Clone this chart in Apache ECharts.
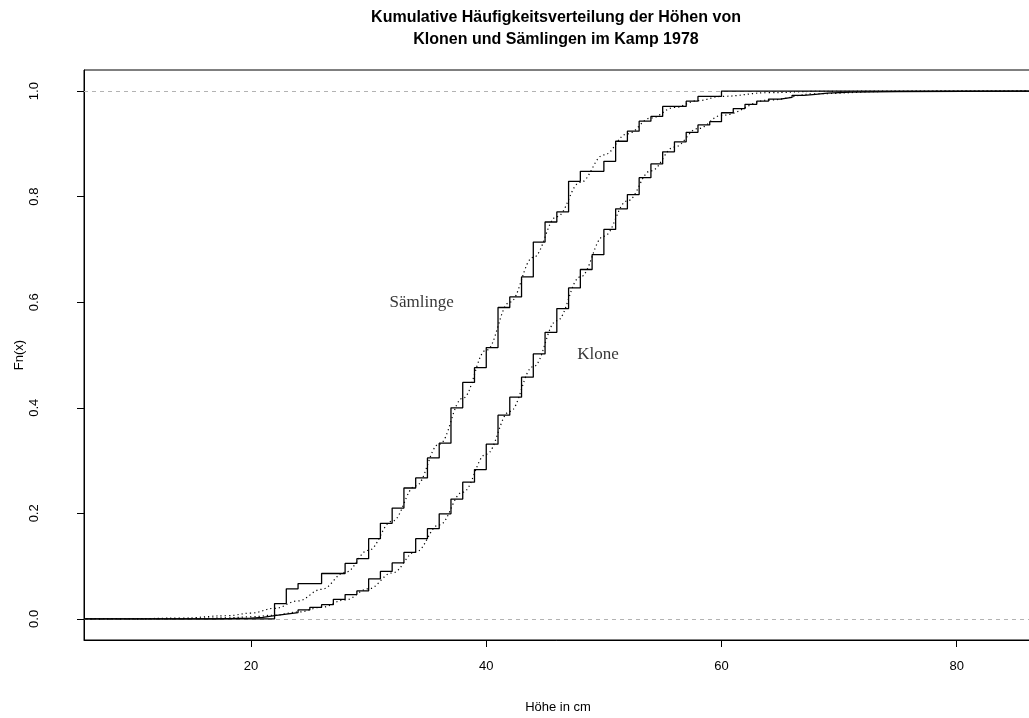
<!DOCTYPE html>
<html>
<head>
<meta charset="utf-8">
<script src="https://cdn.jsdelivr.net/npm/echarts@6/dist/echarts.min.js"></script>
<style>
  html, body { margin: 0; padding: 0; background: #fff; }
  #chart { width: 1029px; height: 718px; }
</style>
</head>
<body>
<div id="chart"></div>
<script>
// Empirical distribution functions (height in cm -> cumulative share)
const saemlingeX = [22, 23, 24, 26, 28, 29, 30, 31, 32, 33, 34, 35, 36, 37, 38, 39, 40, 41, 42, 43,
                    44, 45, 46, 47, 48, 50, 51, 52, 53, 54, 55, 57, 58, 60];
const saemlingeF = [0.029, 0.057, 0.067, 0.086, 0.105, 0.114, 0.152, 0.181, 0.210, 0.248, 0.267, 0.305,
                    0.333, 0.400, 0.448, 0.476, 0.514, 0.590, 0.610, 0.648, 0.714, 0.752, 0.771, 0.829,
                    0.848, 0.867, 0.905, 0.924, 0.943, 0.952, 0.971, 0.981, 0.990, 1.000];

const kloneX = [17, 20, 21, 22, 23, 24, 25, 26, 27, 28, 29, 30, 31, 32, 33, 34, 35, 36, 37, 38, 39,
                40, 41, 42, 43, 44, 45, 46, 47, 48, 49, 50, 51, 52, 53, 54, 55, 56, 57, 58, 59,
                60, 61, 62, 63, 64, 65, 66, 67, 68, 69, 71, 75];
const kloneF = [0.0015, 0.003, 0.006, 0.009, 0.012, 0.017, 0.022, 0.027, 0.037, 0.046, 0.053, 0.076,
                0.090, 0.106, 0.126, 0.152, 0.171, 0.199, 0.227, 0.259, 0.283, 0.331, 0.386, 0.420,
                0.458, 0.502, 0.543, 0.588, 0.627, 0.662, 0.690, 0.738, 0.777, 0.804, 0.836, 0.862,
                0.885, 0.904, 0.922, 0.936, 0.942, 0.959, 0.967, 0.975, 0.981, 0.985, 0.988, 0.992,
                0.994, 0.996, 0.998, 0.999, 1.000];

// Fitted normal distribution curves (dotted)
const fitX = [6, 10, 14, 18, 20, 22, 24, 26, 28, 30, 32, 34, 36, 38, 40, 42, 44, 46, 48, 50,
              52, 54, 56, 58, 60, 64, 68, 74, 80, 86];
const saemlingeFit = [0.0001, 0.0003, 0.0015, 0.006, 0.011, 0.020, 0.034, 0.056, 0.088, 0.130,
                      0.185, 0.252, 0.331, 0.418, 0.509, 0.600, 0.685, 0.762, 0.827, 0.879,
                      0.919, 0.949, 0.969, 0.982, 0.990, 0.997, 0.9994, 1.0, 1.0, 1.0];
const kloneFit = [0.0000, 0.0001, 0.0005, 0.002, 0.004, 0.007, 0.013, 0.022, 0.036, 0.057,
                  0.087, 0.127, 0.178, 0.240, 0.312, 0.393, 0.478, 0.565, 0.648, 0.725,
                  0.792, 0.849, 0.894, 0.929, 0.954, 0.983, 0.995, 0.9993, 0.9999, 1.0];

// Curve annotations
const curveLabelText = ['Sämlinge', 'Klone'];
const curveLabelX = [34.5, 49.5];
const curveLabelY = [0.6, 0.5];

// Axis ticks and reference lines
const xTicks = [20, 40, 60, 80];
const yTicks = [0, 0.2, 0.4, 0.6, 0.8, 1.0];
const refLines = [0, 1];

const xMin = 5.8, xMax = 86.4;
const yMin = -0.04, yMax = 1.04;

function ecdfPoints(xs, fs) {
  const pts = [[xMin, 0]];
  xs.forEach((x, i) => pts.push([x, fs[i]]));
  pts.push([xMax, fs[fs.length - 1]]);
  return pts;
}
function curvePoints(xs, fs) {
  return xs.map((x, i) => [x, fs[i]]);
}

const sansFont = '"Liberation Sans", Arial, Helvetica, sans-serif';
const serifFont = '"Liberation Serif", "Times New Roman", serif';

const chart = echarts.init(document.getElementById('chart'), null, { renderer: 'canvas' });

const stepStyle = { color: '#000', width: 1.3 };
const dotStyle = { color: '#000', width: 1.2, type: [1.2, 3] };

chart.setOption({
  animation: false,
  backgroundColor: '#fff',
  title: {
    text: 'Kumulative Häufigkeitsverteilung der Höhen von\nKlonen und Sämlingen im Kamp 1978',
    left: 556,
    top: 7,
    padding: 0,
    textAlign: 'center',
    textStyle: { fontFamily: sansFont, fontWeight: 'bold', fontSize: 16, lineHeight: 22, color: '#000' }
  },
  grid: {
    left: 84, top: 70, bottom: 78, right: -3,
    show: true, borderColor: '#000', borderWidth: 1,
    containLabel: false, outerBoundsMode: 'none'
  },
  xAxis: {
    type: 'value', min: xMin, max: xMax,
    name: 'Höhe in cm', nameLocation: 'middle', nameGap: 61, nameMoveOverlap: false,
    nameTextStyle: { fontFamily: sansFont, fontSize: 13, color: '#000' },
    axisLine: { show: true, onZero: false, lineStyle: { color: '#000', width: 1 } },
    axisTick: { show: true, length: 7, lineStyle: { color: '#000' }, customValues: xTicks },
    axisLabel: { show: true, margin: 20, fontFamily: sansFont, fontSize: 13, color: '#000',
                 customValues: xTicks, formatter: v => String(v) },
    splitLine: { show: false }
  },
  yAxis: {
    type: 'value', min: yMin, max: yMax,
    name: 'Fn(x)', nameLocation: 'middle', nameGap: 58, nameRotate: 90, nameMoveOverlap: false,
    nameTextStyle: { fontFamily: sansFont, fontSize: 13, color: '#000' },
    axisLine: { show: true, onZero: false, lineStyle: { color: '#000', width: 1 } },
    axisTick: { show: true, length: 7, lineStyle: { color: '#000' }, customValues: yTicks },
    axisLabel: { show: true, margin: 50, rotate: 90, fontFamily: sansFont, fontSize: 13, color: '#000',
                 customValues: yTicks, formatter: v => v.toFixed(1), verticalAlign: 'middle', align: 'center' },
    splitLine: { show: false }
  },
  series: [
    {
      type: 'line', name: 'ref', data: [], silent: true,
      markLine: {
        symbol: 'none', silent: true, label: { show: false },
        lineStyle: { color: '#b3b3b3', type: [4, 4], width: 1 },
        data: refLines.map(v => ({ yAxis: v }))
      }
    },
    {
      type: 'line', name: 'Sämlinge', step: 'end', showSymbol: false, symbol: 'none',
      data: ecdfPoints(saemlingeX, saemlingeF), lineStyle: stepStyle, z: 5
    },
    {
      type: 'line', name: 'Klone', step: 'end', showSymbol: false, symbol: 'none',
      data: ecdfPoints(kloneX, kloneF), lineStyle: stepStyle, z: 5
    },
    {
      type: 'line', name: 'Sämlinge (Normal)', smooth: 0.4, smoothMonotone: 'x', showSymbol: false, symbol: 'none',
      data: curvePoints(fitX, saemlingeFit), lineStyle: dotStyle, z: 4
    },
    {
      type: 'line', name: 'Klone (Normal)', smooth: 0.4, smoothMonotone: 'x', showSymbol: false, symbol: 'none',
      data: curvePoints(fitX, kloneFit), lineStyle: dotStyle, z: 4
    },
    {
      type: 'scatter', name: 'labels', symbolSize: 0, silent: true,
      data: curveLabelText.map((t, i) => ({ name: t, value: [curveLabelX[i], curveLabelY[i]] })),
      label: {
        show: true, position: 'inside', formatter: p => p.name,
        fontFamily: serifFont, fontSize: 17, color: '#000'
      },
      z: 6
    }
  ]
});
</script>
</body>
</html>
